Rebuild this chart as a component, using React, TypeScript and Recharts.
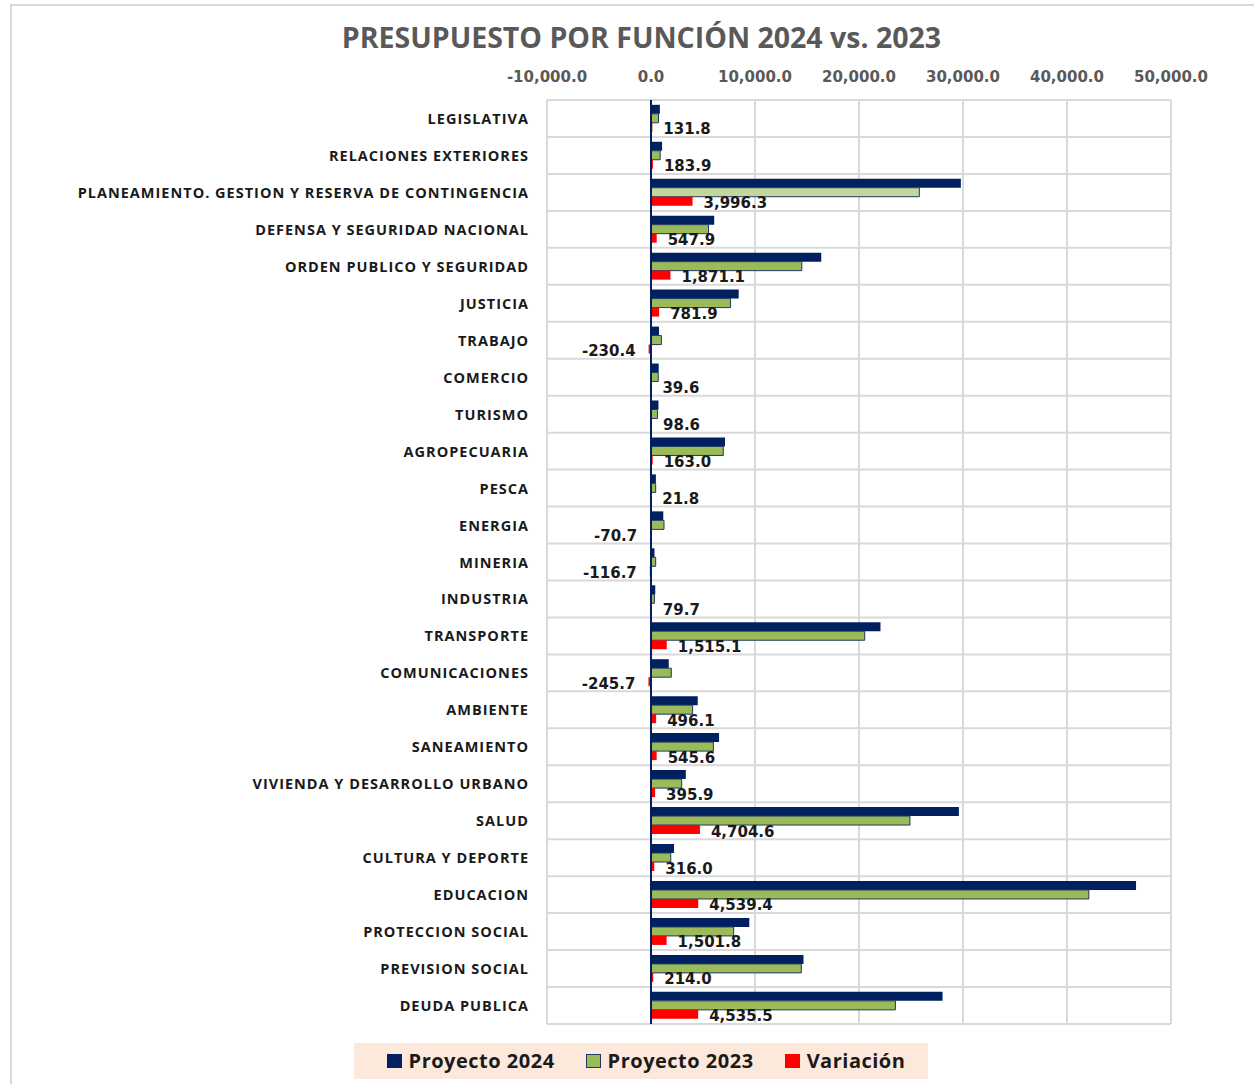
import React from 'react';
import {
  BarChart,
  Bar,
  XAxis,
  YAxis,
  CartesianGrid,
  Legend,
  LabelList,
  ReferenceLine,
  Cell,
} from 'recharts';

const categories = [
  'LEGISLATIVA',
  'RELACIONES EXTERIORES',
  'PLANEAMIENTO. GESTION Y RESERVA DE CONTINGENCIA',
  'DEFENSA Y SEGURIDAD NACIONAL',
  'ORDEN PUBLICO Y SEGURIDAD',
  'JUSTICIA',
  'TRABAJO',
  'COMERCIO',
  'TURISMO',
  'AGROPECUARIA',
  'PESCA',
  'ENERGIA',
  'MINERIA',
  'INDUSTRIA',
  'TRANSPORTE',
  'COMUNICACIONES',
  'AMBIENTE',
  'SANEAMIENTO',
  'VIVIENDA Y DESARROLLO URBANO',
  'SALUD',
  'CULTURA Y DEPORTE',
  'EDUCACION',
  'PROTECCION SOCIAL',
  'PREVISION SOCIAL',
  'DEUDA PUBLICA',
];

const proyecto2024 = [
  852, 1064, 29796, 6078, 16371, 8432, 770, 740, 719, 7113, 472, 1180, 333, 410,
  22065, 1704, 4496, 6546, 3346, 29605, 2216, 46639, 9452, 14664, 28036,
];

const proyecto2023 = [
  720, 880, 25800, 5530, 14500, 7650, 1000, 700, 620, 6950, 450, 1250, 450, 330,
  20550, 1950, 4000, 6000, 2950, 24900, 1900, 42100, 7950, 14450, 23500,
];

const variacion = [
  131.8, 183.9, 3996.3, 547.9, 1871.1, 781.9, -230.4, 39.6, 98.6, 163.0, 21.8,
  -70.7, -116.7, 79.7, 1515.1, -245.7, 496.1, 545.6, 395.9, 4704.6, 316.0,
  4539.4, 1501.8, 214.0, 4535.5,
];

const xTicks = [-10000, 0, 10000, 20000, 30000, 40000, 50000];

const highlightedCategory = 'PLANEAMIENTO. GESTION Y RESERVA DE CONTINGENCIA';

const data = categories.map((name, i) => ({
  name,
  p2024: proyecto2024[i],
  p2023: proyecto2023[i],
  variacion: variacion[i],
}));

const NAVY = '#002060';
const GREEN = '#9BBB59';
const GREEN_LIGHT = '#C4D79B';
const RED = '#FF0000';
const GRID = '#D9D9D9';

const fmt = (v: number) =>
  v.toLocaleString('en-US', { minimumFractionDigits: 1, maximumFractionDigits: 1 });

const XTick = (props: any) => {
  const { x, payload } = props;
  return (
    <text
      x={x}
      y={77}
      textAnchor="middle"
      dominantBaseline="central"
      fontFamily="DejaVu Sans"
      fontWeight="bold"
      fontSize={15}
      fill="#595959"
    >
      {fmt(payload.value)}
    </text>
  );
};

const YTick = (props: any) => {
  const { y, payload } = props;
  return (
    <text
      x={529}
      y={y}
      textAnchor="end"
      dominantBaseline="central"
      fontFamily="Open Sans"
      fontWeight="bold"
      fontSize={14.5}
      letterSpacing={1}
      fill="#1A1A1A"
    >
      {payload.value}
    </text>
  );
};

const VarLabel = (props: any) => {
  const { x, y, width, height, value } = props;
  const left = Math.min(x, x + width);
  const right = Math.max(x, x + width);
  const cy = y + height / 2 + 2;
  const pos = value >= 0;
  return (
    <text
      x={pos ? right + 11 : left - 13}
      y={cy}
      textAnchor={pos ? 'start' : 'end'}
      dominantBaseline="central"
      fontFamily="DejaVu Sans"
      fontWeight="bold"
      fontSize={15}
      fill="#1A1A1A"
    >
      {fmt(value)}
    </text>
  );
};

const legendItems = [
  { label: 'Proyecto 2024', fill: NAVY, stroke: NAVY },
  { label: 'Proyecto 2023', fill: GREEN, stroke: '#1F3864' },
  { label: 'Variación', fill: RED, stroke: RED },
];

const LegendContent = () => (
  <div
    style={{
      width: 574,
      height: 36,
      background: '#FCE9DB',
      display: 'flex',
      alignItems: 'center',
      justifyContent: 'center',
      gap: 31,
      paddingLeft: 10,
      boxSizing: 'border-box',
      fontFamily: 'Open Sans',
      fontWeight: 'bold',
      fontSize: 20,
      letterSpacing: 0.5,
      color: '#1A1A1A',
    }}
  >
    {legendItems.map((it) => (
      <div key={it.label} style={{ display: 'flex', alignItems: 'center' }}>
        <span
          style={{
            display: 'inline-block',
            width: 13,
            height: 12,
            background: it.fill,
            border: `1px solid ${it.stroke}`,
            marginRight: 7,
          }}
        />
        <span style={{ lineHeight: '36px' }}>{it.label}</span>
      </div>
    ))}
  </div>
);

const rowLines = ({ offset }: any) => {
  const lines: number[] = [];
  const n = categories.length;
  for (let i = 0; i <= n; i++) {
    lines.push(offset.top + (i * offset.height) / n);
  }
  return lines;
};

export default function App() {
  return (
    <div
      style={{
        position: 'absolute',
        left: 0,
        top: 0,
        width: 1254,
        height: 1084,
        overflow: 'hidden',
        background: '#FFFFFF',
      }}
    >
      <div
        style={{
          position: 'absolute',
          left: 10,
          top: 4,
          width: 1260,
          height: 1100,
          borderLeft: '2px solid #D9D9D9',
          borderTop: '2px solid #D9D9D9',
        }}
      />
      <div
        style={{
          position: 'absolute',
          left: 0,
          top: 19,
          width: 1283,
          textAlign: 'center',
          fontFamily: 'Open Sans',
          fontWeight: 'bold',
          fontSize: 28.5,
          lineHeight: '36px',
          color: '#595959',
        }}
      >
        PRESUPUESTO POR FUNCIÓN 2024 vs. 2023
      </div>
      <div style={{ position: 'absolute', left: 0, top: 0 }}>
        <BarChart
          width={1254}
          height={1084}
          data={data}
          layout="vertical"
          margin={{ top: 70, right: 83, bottom: 60, left: 0 }}
          barCategoryGap="13%"
          barGap={0}
        >
          <CartesianGrid
            stroke={GRID}
            strokeWidth={2}
            horizontalCoordinatesGenerator={rowLines}
          />
          <XAxis
            type="number"
            orientation="top"
            domain={[-10000, 50000]}
            ticks={xTicks}
            height={30}
            axisLine={false}
            tickLine={false}
            tick={<XTick />}
            interval={0}
            allowDataOverflow
          />
          <YAxis
            type="category"
            dataKey="name"
            width={547}
            axisLine={false}
            tickLine={false}
            interval={0}
            tick={<YTick />}
          />
          <Bar dataKey="p2024" name="Proyecto 2024" fill={NAVY} isAnimationActive={false} />
          <Bar
            dataKey="p2023"
            name="Proyecto 2023"
            fill={GREEN}
            stroke="#1F3864"
            strokeWidth={1}
            isAnimationActive={false}
          >
            {data.map((d) => (
              <Cell key={d.name} fill={d.name === highlightedCategory ? GREEN_LIGHT : GREEN} />
            ))}
          </Bar>
          <Bar dataKey="variacion" name="Variación" fill={RED} isAnimationActive={false}>
            <LabelList dataKey="variacion" content={<VarLabel />} />
          </Bar>
          <ReferenceLine x={0} stroke={NAVY} strokeWidth={2} />
          <Legend
            layout="horizontal"
            verticalAlign="middle"
            align="center"
            content={<LegendContent />}
            wrapperStyle={{ position: 'absolute', left: 354, top: 1043, width: 574, height: 36 }}
          />
        </BarChart>
      </div>
    </div>
  );
}
